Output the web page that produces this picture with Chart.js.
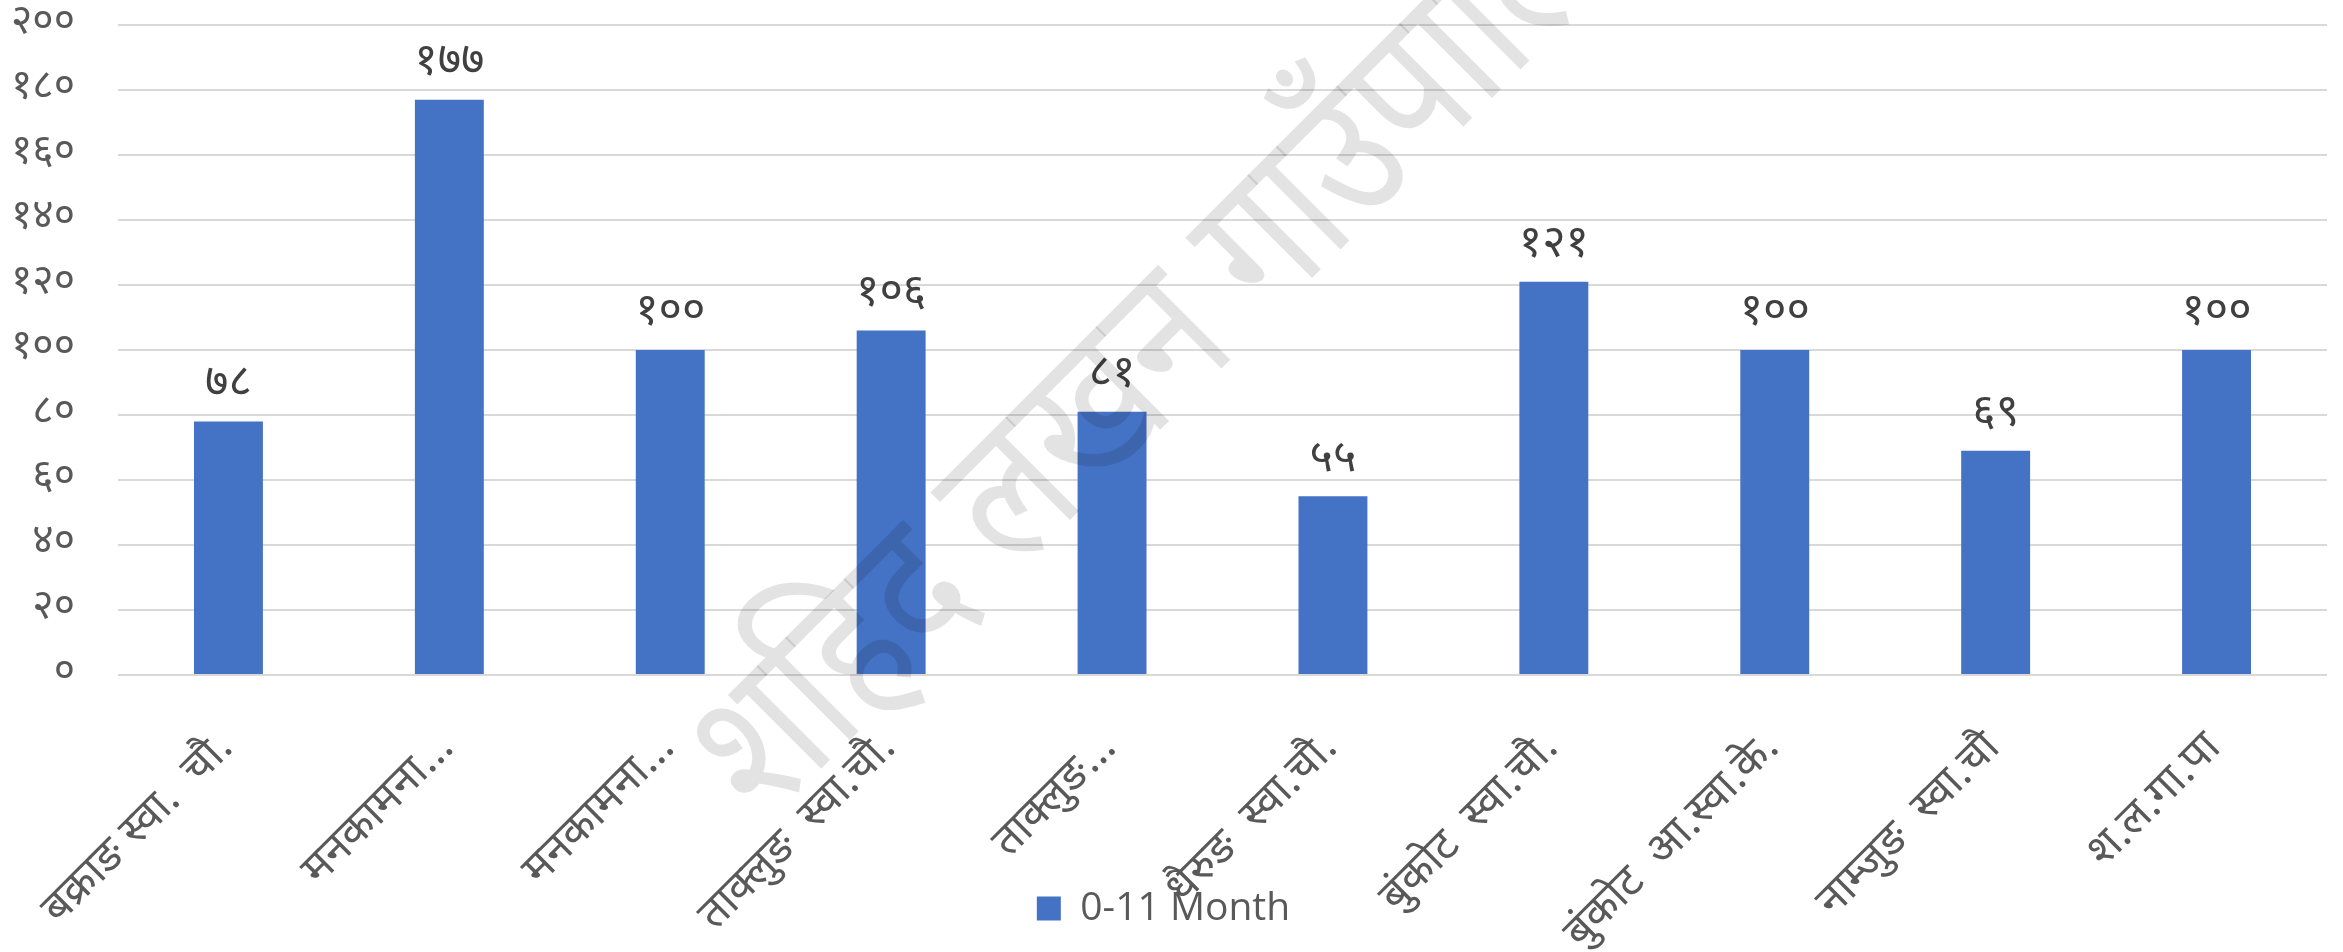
<!DOCTYPE html>
<html>
<head>
<meta charset="utf-8">
<script src="https://cdn.jsdelivr.net/npm/chart.js@4.4.1/dist/chart.umd.min.js"></script>
<style>
  html, body { margin: 0; padding: 0; background: #ffffff; }
  #wrap { width: 2343px; height: 952px; position: relative; }
</style>
</head>
<body>
<div id="wrap"><canvas id="chart"></canvas></div>
<script>
// chart data
const categories = [
    'बक्राङ स्वा.  चौ.',
    'मनकामना…',
    'मनकामना…',
    'ताक्लुङ  स्वा.चौ.',
    'ताक्लुङ…',
    'धैरुङ  स्वा.चौ.',
    'बुंकोट  स्वा.चौ.',
    'बुंकोट  आ.स्वा.के.',
    'नाम्जुङ  स्वा.चौ',
    'श.ल.गा.पा'
];
const seriesName = '0-11 Month';
const values = [78, 177, 100, 106, 81, 55, 121, 100, 69, 100];
const yTickValues = [0, 20, 40, 60, 80, 100, 120, 140, 160, 180, 200];
const yTickLabels = ['०', '२०', '४०', '६०', '८०', '१००', '१२०', '१४०', '१६०', '१८०', '२००'];
const watermarkText = 'शहिद लखन गाउँपालिका';

const FONT = "'Noto Sans Devanagari', 'Lohit Devanagari', 'Mukta', 'FreeSans', 'Open Sans', sans-serif";
const BAR_COLOR = '#4472c4';
const TEXT_COLOR = '#595959';
const PLOT_BOTTOM = 675;
const PAD_BOTTOM = 14;

const devDigits = ['०', '१', '२', '३', '४', '५', '६', '७', '८', '९'];
function toDevanagari(n) {
    return String(n).replace(/[0-9]/g, d => devDigits[+d]);
}

// value labels above the bars
const valueLabelPlugin = {
    id: 'valueLabels',
    afterDatasetsDraw(chart) {
        const ctx = chart.ctx;
        const meta = chart.getDatasetMeta(0);
        ctx.save();
        ctx.font = '45px ' + FONT;
        ctx.fillStyle = '#404040';
        ctx.textAlign = 'center';
        ctx.textBaseline = 'middle';
        meta.data.forEach((bar, i) => {
            ctx.fillText(toDevanagari(values[i]), bar.x, bar.y - 34);
        });
        ctx.restore();
    }
};

// faint diagonal watermark drawn over the plot
const watermarkPlugin = {
    id: 'watermark',
    afterDraw(chart) {
        const ctx = chart.ctx;
        ctx.save();
        ctx.translate(765, 825);
        ctx.rotate(-Math.PI / 4);
        ctx.scale(0.82, 1);
        ctx.font = '190px ' + FONT;
        ctx.fillStyle = 'rgba(0, 0, 0, 0.11)';
        ctx.textAlign = 'left';
        ctx.textBaseline = 'alphabetic';
        ctx.fillText(watermarkText, 0, 0);
        ctx.restore();
    }
};

new Chart(document.getElementById('chart'), {
    type: 'bar',
    data: {
        labels: categories,
        datasets: [{
            label: seriesName,
            data: values,
            backgroundColor: BAR_COLOR,
            borderWidth: 0,
            categoryPercentage: 1,
            barPercentage: 0.312
        }]
    },
    options: {
        responsive: true,
        maintainAspectRatio: false,
        animation: false,
        devicePixelRatio: 1,
        layout: { padding: { top: 25, right: 16, bottom: PAD_BOTTOM, left: 0 } },
        plugins: {
            legend: {
                position: 'bottom',
                labels: {
                    color: TEXT_COLOR,
                    font: { family: "'Open Sans', sans-serif", size: 39 },
                    boxWidth: 24,
                    boxHeight: 24,
                    padding: 10
                }
            },
            tooltip: { enabled: false }
        },
        scales: {
            x: {
                grid: { display: false, drawTicks: false },
                border: { display: false },
                ticks: {
                    color: TEXT_COLOR,
                    font: { family: FONT, size: 44 },
                    minRotation: 45,
                    maxRotation: 45,
                    autoSkip: false,
                    padding: 50
                },
                afterFit: (scale) => {
                    scale.height = 952 - PLOT_BOTTOM - PAD_BOTTOM - scale.chart.legend.height;
                    scale.paddingLeft = 0;
                    scale.paddingRight = 0;
                    // long rotated labels run past the axis box into the legend band
                    scale._computeLabelArea = () => null;
                }
            },
            y: {
                min: 0,
                max: 200,
                afterBuildTicks: (scale) => {
                    scale.ticks = yTickValues.map(v => ({ value: v }));
                },
                grid: { color: '#d9d9d9', lineWidth: 2, drawTicks: false },
                border: { display: false },
                ticks: {
                    color: TEXT_COLOR,
                    font: { family: FONT, size: 41 },
                    padding: 43,
                    callback: (value) => yTickLabels[yTickValues.indexOf(value)]
                },
                afterFit: (scale) => {
                    scale.width = 118;
                    scale.paddingTop = 0;
                    scale.paddingBottom = 0;
                }
            }
        }
    },
    plugins: [valueLabelPlugin, watermarkPlugin]
});
</script>
</body>
</html>
